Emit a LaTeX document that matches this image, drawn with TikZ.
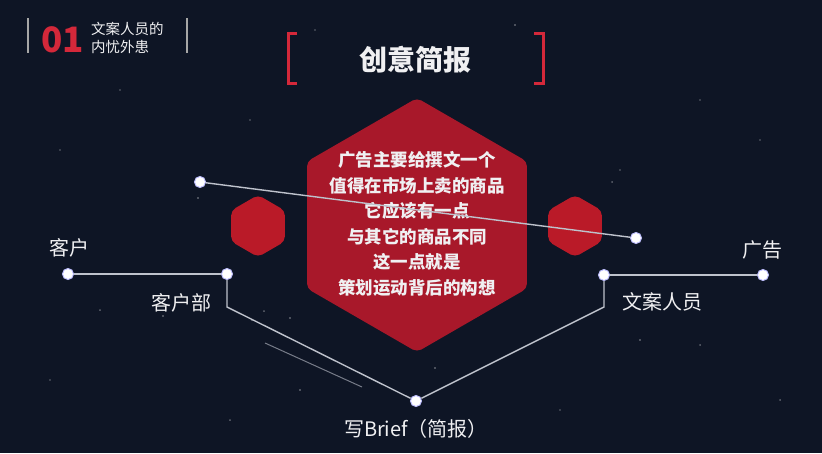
\documentclass[tikz,border=0pt]{standalone}
\usepackage{fontspec}
\newfontfamily\cjk{Noto Sans CJK SC}
\usetikzlibrary{shapes.geometric}
\definecolor{bg}{RGB}{14,21,37}
\definecolor{hexred}{RGB}{168,24,42}
\definecolor{hexredb}{RGB}{186,26,40}
\definecolor{brk}{RGB}{212,40,58}
\definecolor{linec}{RGB}{190,194,204}
\definecolor{txt}{RGB}{240,240,242}
\tikzset{
  hexshape/.style={regular polygon, regular polygon sides=6, shape border rotate=90,
    inner sep=0pt, outer sep=0pt, draw=none, rounded corners=5pt},
  dot/.style={circle, fill=white, draw=white!75!blue, line width=1pt, minimum size=11pt, inner sep=0pt},
  conn/.style={draw=linec, line width=1.4pt},
  lbl/.style={font=\cjk\fontsize{20}{24}\selectfont, text=txt, inner sep=0pt},
  sublbl/.style={font=\cjk\fontsize{14.5}{17}\selectfont, text=txt, inner sep=0pt, anchor=west,
    text height=11pt, text depth=1.5pt},
  star/.style={fill=white, opacity=0.35},
}
\begin{document}
\begin{tikzpicture}[x=1pt,y=-1pt]
\fill[bg] (0,0) rectangle (822,453);
\useasboundingbox (0,0) rectangle (822,453);
% stars
\foreach \p/\r in {(198,198)/1.2,(120,90)/0.9,(250,120)/0.8,(330,300)/1.1,(252,320)/1.2,(264,311)/1,(290,318)/1.1,(230,420)/1,(300,390)/1.2,(640,340)/1.2,(700,345)/1,(612,182)/1,(620,170)/0.8,(435,368)/1.1,(315,30)/0.9,(515,25)/1.1,(700,100)/0.8,(760,140)/0.9,(50,380)/0.9,(780,400)/1,(100,310)/1,(163,316)/1.1,(560,410)/0.9,(480,150)/0.8,(60,150)/0.8}
  \fill[star] \p circle (\r);
% hexagons
\node[hexshape, fill=hexred, minimum size=254pt] (bighex) at (417,225) {};
\node[hexshape, fill=hexredb, minimum size=62pt] (lhex) at (258,226) {};
\node[hexshape, fill=hexredb, minimum size=62pt] (rhex) at (575,226) {};
% hexagon text
\node[font=\cjk\bfseries\fontsize{17.5}{25.5}\selectfont, text=txt, align=center, inner sep=0pt] (body) at (417,224)
  {广告主要给撰文一个\\值得在市场上卖的商品\\它应该有一点\\与其它的商品不同\\这一点就是\\策划运动背后的构想};
% dots
\node[dot] (da) at (200,182) {};
\node[dot] (db) at (636,238) {};
\node[dot] (kh) at (68,274) {};
\node[dot] (khb) at (227,274) {};
\node[dot] (wa) at (604,275) {};
\node[dot] (gg) at (763,275) {};
\node[dot] (brief) at (416,401) {};
\coordinate (kbend) at (227,307);
\coordinate (wbend) at (604,307);
\coordinate (fa) at (265,343);
\coordinate (fb) at (362,387);
% connectors
\draw[conn] (da) -- (db);
\draw[conn] (kh) -- (khb);
\draw[conn] (khb) -- (kbend) -- (brief);
\draw[conn] (gg) -- (wa);
\draw[conn] (wa) -- (wbend) -- (brief);
\draw[draw=linec, line width=1pt, opacity=0.6] (fa) -- (fb);
% redraw dots on top
\foreach \n in {da,db,kh,khb,wa,gg,brief} \fill[white] (\n) circle (4.5);
% labels
\node[lbl] (lkh) at (69,248) {客户};
\node[lbl] (lkhb) at (181,303) {客户部};
\node[lbl] (lgg) at (762,250) {广告};
\node[lbl] (lwa) at (662,302) {文案人员};
\node[lbl] (lbrief) at (416,429) {写Brief（简报）};
% title
\node[font=\cjk\bfseries\fontsize{28}{32}\selectfont, text=txt, inner sep=0pt] (title) at (415,60) {创意简报};
\draw[brk, line width=3pt] (297,33) -- (288.5,33) -- (288.5,83) -- (297,83);
\draw[brk, line width=3pt] (534,33) -- (543.5,33) -- (543.5,83) -- (534,83);
% top-left badge
\draw[gray!70, line width=1.8pt] (28,18) -- (28,53);
\draw[gray!70, line width=1.8pt] (187,18) -- (187,53);
\node[font=\cjk\bfseries\fontsize{35}{38}\selectfont, text=brk, inner sep=0pt, anchor=west] (num) at (41,39.5) {01};
\node[sublbl] (sub1) at (91,29.5) {文案人员的};
\node[sublbl] (sub2) at (91,47.5) {内忧外患};
\end{tikzpicture}
\end{document}
